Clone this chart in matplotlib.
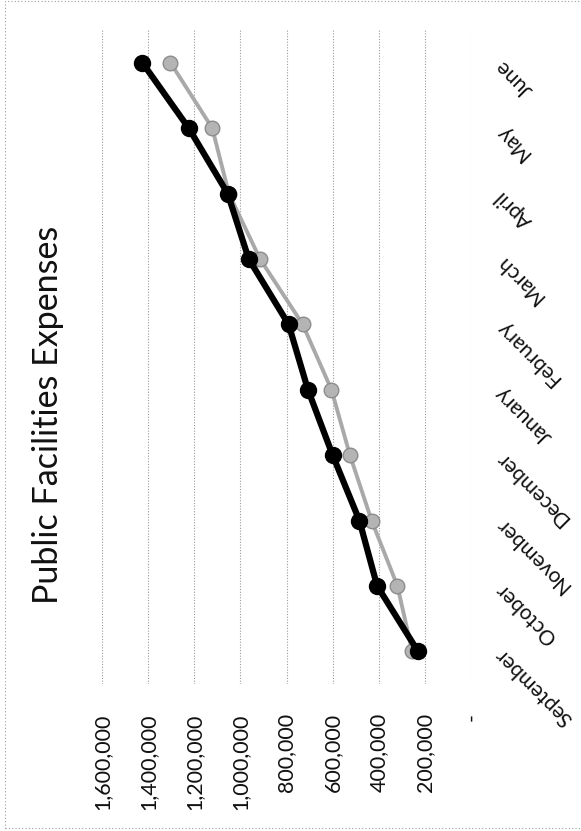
import matplotlib.pyplot as plt
from matplotlib.patches import Rectangle

# chart is printed sideways: values run right->left, months bottom->top
months = ["September", "October", "November", "December", "January",
          "February", "March", "April", "May", "June"]
series_black = [230000, 407000, 484000, 600000, 707000,
                791000, 964000, 1055000, 1224000, 1425000]
series_gray = [255000, 319000, 431000, 525000, 605000,
               730000, 915000, 1050000, 1122000, 1303000]
value_ticks = [0, 200000, 400000, 600000, 800000,
               1000000, 1200000, 1400000, 1600000]
value_labels = ["-", "200,000", "400,000", "600,000", "800,000",
                "1,000,000", "1,200,000", "1,400,000", "1,600,000"]
title = "Public Facilities Expenses"

plt.rcParams["font.family"] = ["Lato", "DejaVu Sans"]

W, H = 581, 831
fig = plt.figure(figsize=(W / 100, H / 100), dpi=100)

# plot area in pixel terms
left_px, right_px, top_px, bot_px = 102, 471, 30, 684
ax = fig.add_axes([left_px / W, 1 - bot_px / H,
                   (right_px - left_px) / W, (bot_px - top_px) / H])

ypos = list(range(len(months)))
ax.plot(series_gray, ypos, color="#a9a9a9", lw=2.8, marker="o", ms=10.5,
        mfc="#b4b4b4", mec="#8c8c8c", mew=1.0, clip_on=False, zorder=3)
ax.plot(series_black, ypos, color="black", lw=4.5, marker="o", ms=11.5,
        mfc="black", mec="black", clip_on=False, zorder=4)

ax.set_xlim(1600000, 0)
ax.set_ylim(-0.5, len(months) - 0.5)

ax.set_xticks(value_ticks)
ax.set_xticklabels(value_labels, rotation=90, va="top", ha="center")
ax.tick_params(axis="x", length=0, pad=21, labelsize=15.5, colors="#111111")
ax.grid(axis="x", color="#9a9a9a", lw=0.8, ls=(0, (1, 1.5)))
ax.grid(axis="y", visible=False)

ax.yaxis.tick_right()
ax.set_yticks(ypos)
ax.set_yticklabels(months)
ax.tick_params(axis="y", length=0, pad=20, labelsize=15, colors="#111111")
for lab in ax.get_yticklabels():
    lab.set_rotation(135)
    lab.set_rotation_mode("anchor")
    lab.set_ha("right")
    lab.set_va("center")

for s in ax.spines.values():
    s.set_visible(False)

fig.text(48 / W, 1 - 415 / H, title, rotation=90, ha="center", va="center",
         fontsize=24.5, color="#111111")

# dotted chart-area border
fig.add_artist(Rectangle((5 / W, 3 / H), 1.2, 1 - 4 / H,
                         transform=fig.transFigure, fill=False,
                         ec="#a0a0a0", lw=0.8, ls=(0, (1, 2))))

fig.savefig("out.png", dpi=100)
